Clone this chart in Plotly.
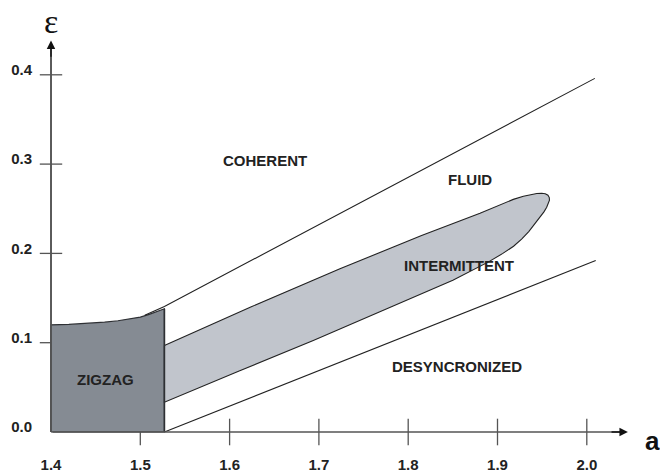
import plotly.graph_objects as go

# ---- data ----
zigzag_x = [1.400, 1.420, 1.440, 1.460, 1.475, 1.489, 1.500, 1.510, 1.519, 1.527]
zigzag_top = [0.1200, 0.1205, 0.1215, 0.1230, 0.1246, 0.1266, 0.1287, 0.1317, 0.1348, 0.1380]

coherent_x = [1.505, 1.527, 2.009]
coherent_y = [0.1308, 0.1405, 0.396]

desync_x = [1.527, 2.010]
desync_y = [0.000, 0.192]

inter_upper_x = [1.527, 1.6237, 1.7236, 1.746, 1.8150, 1.8804, 1.9028, 1.9177, 1.9290, 1.9364,
                 1.9440, 1.9495, 1.9535, 1.9565, 1.9580, 1.9582]
inter_upper_y = [0.097, 0.140, 0.1828, 0.192, 0.2200, 0.2450, 0.2545, 0.2605, 0.2640, 0.2658,
                 0.2671, 0.2674, 0.2668, 0.2652, 0.2625, 0.2595]
inter_lower_x = [1.9570, 1.9551, 1.9520, 1.9476, 1.9420, 1.9350, 1.9270, 1.9180, 1.9060,
                 1.8900, 1.8500, 1.7721, 1.6937, 1.6100, 1.527]
inter_lower_y = [0.2560, 0.2517, 0.2465, 0.2405, 0.2330, 0.2245, 0.2160, 0.2080, 0.2000,
                 0.1905, 0.1700, 0.1360, 0.1025, 0.0680, 0.0334]

x_ticks = [1.5, 1.6, 1.7, 1.8, 1.9, 2.0]
x_labels = [1.4, 1.5, 1.6, 1.7, 1.8, 1.9, 2.0]
y_ticks = [0.1, 0.2, 0.3, 0.4]
y_labels = [0.0, 0.1, 0.2, 0.3, 0.4]

regions = [
    ("COHERENT", 1.6391, 0.304),
    ("FLUID", 1.8692, 0.2828),
    ("INTERMITTENT", 1.8569, 0.1865),
    ("DESYNCRONIZED", 1.8546, 0.0733),
    ("ZIGZAG", 1.461, 0.0588),
]

x_end = 2.046
y_end = 0.4384

W, H = 660, 473
ML, MB = 40, 39
PX = 893.0  # pixels per data unit
X0_PAD = 11 / PX
Y0_PAD = 2 / PX

FONT = "Liberation Sans, Arial, sans-serif"
TXT = "#222222"
AX = "#555555"

fig = go.Figure()

# y axis line
fig.add_trace(go.Scatter(x=[1.4, 1.4], y=[0, y_end - 0.008], mode="lines",
                         line=dict(color=AX, width=1.6), hoverinfo="skip",
                         showlegend=False, cliponaxis=False))

# tick marks crossing the axes
fig.add_trace(go.Scatter(x=x_ticks, y=[0] * len(x_ticks), mode="markers",
                         marker=dict(symbol="line-ns", size=19, line=dict(color=AX, width=1.3)),
                         hoverinfo="skip", showlegend=False, cliponaxis=False))
fig.add_trace(go.Scatter(x=[1.4] * len(y_ticks), y=y_ticks, mode="markers",
                         marker=dict(symbol="line-ew", size=16, line=dict(color=AX, width=1.3)),
                         hoverinfo="skip", showlegend=False, cliponaxis=False))

# zigzag region
zx = [zigzag_x[0]] + zigzag_x + [zigzag_x[-1], zigzag_x[0]]
zy = [0.0] + zigzag_top + [0.0, 0.0]
fig.add_trace(go.Scatter(x=zx, y=zy, mode="lines", fill="toself", fillcolor="#858b93",
                         line=dict(color="#2e3034", width=1.2), hoverinfo="skip",
                         showlegend=False, cliponaxis=False))

# intermittent region
ix = inter_upper_x + inter_lower_x + [inter_upper_x[0]]
iy = inter_upper_y + inter_lower_y + [inter_upper_y[0]]
fig.add_trace(go.Scatter(x=ix, y=iy, mode="lines", fill="toself", fillcolor="#c1c5cc",
                         line=dict(color="#222222", width=1.1),
                         hoverinfo="skip", showlegend=False, cliponaxis=False))

# boundary lines
fig.add_trace(go.Scatter(x=coherent_x, y=coherent_y, mode="lines",
                         line=dict(color="#222222", width=1.1), hoverinfo="skip",
                         showlegend=False, cliponaxis=False))
fig.add_trace(go.Scatter(x=desync_x, y=desync_y, mode="lines",
                         line=dict(color="#222222", width=1.1), hoverinfo="skip",
                         showlegend=False, cliponaxis=False))

# zigzag right edge (dark)
fig.add_trace(go.Scatter(x=[zigzag_x[-1], zigzag_x[-1]], y=[0.0, zigzag_top[-1]], mode="lines",
                         line=dict(color="#2e3034", width=1.6), hoverinfo="skip",
                         showlegend=False, cliponaxis=False))

shapes = [
    # y axis as a thin filled bar anchored at x = 1.4
    dict(type="rect", xref="x", yref="y", xsizemode="pixel", xanchor=1.4, x0=-0.8, x1=0.8,
         y0=0, y1=y_end - 0.008, fillcolor=AX, line=dict(width=0), layer="above"),
]

annotations = [
    # x axis line (no head)
    dict(x=x_end - 0.008, y=0, ax=1.4, ay=0, xref="x", yref="y", axref="x", ayref="y",
         showarrow=True, arrowhead=0, arrowwidth=1.3, arrowcolor=AX, text="", standoff=0,
         startstandoff=0),
    # arrow heads
    dict(x=x_end, y=0, ax=x_end - 0.02, ay=0, xref="x", yref="y", axref="x", ayref="y",
         showarrow=True, arrowhead=2, arrowsize=1.3, arrowwidth=1.3, arrowcolor="#111111", text=""),
    dict(x=1.4, y=y_end, ax=1.4, ay=y_end - 0.02, xref="x", yref="y", axref="x", ayref="y",
         showarrow=True, arrowhead=2, arrowsize=1.3, arrowwidth=1.3, arrowcolor="#111111", text=""),
    dict(x=2.074, y=0, yshift=-9, xref="x", yref="y", text="<b>a</b>", showarrow=False,
         font=dict(family=FONT, size=26, color="#111111")),
    dict(x=1.4, y=y_end, yshift=19, xref="x", yref="y", text="ε", showarrow=False,
         font=dict(family="Liberation Serif, DejaVu Serif, serif", size=34, color="#111111")),
]
for name, x, y in regions:
    annotations.append(dict(x=x, y=y, xref="x", yref="y", text=f"<b>{name}</b>", showarrow=False,
                            font=dict(family=FONT, size=15, color=TXT)))

fig.update_layout(
    width=W, height=H,
    margin=dict(l=ML, r=0, t=0, b=MB),
    paper_bgcolor="white", plot_bgcolor="white",
    showlegend=False,
    shapes=shapes,
    annotations=annotations,
    xaxis=dict(range=[1.4 - X0_PAD, 1.4 - X0_PAD + (W - ML) / PX], showgrid=False, zeroline=False,
               showline=False, ticks="", tickvals=x_labels,
               ticktext=[f"<b>{v:.1f}</b>" for v in x_labels],
               tickfont=dict(family=FONT, size=15, color=TXT), ticklabelstandoff=20,
               fixedrange=True),
    yaxis=dict(range=[-Y0_PAD, -Y0_PAD + (H - MB) / PX], showgrid=False, zeroline=False,
               showline=False, ticks="", tickvals=y_labels,
               ticktext=[f"<b>{v:.1f}</b>" for v in y_labels],
               tickfont=dict(family=FONT, size=15, color=TXT), ticklabelstandoff=7,
               ticklabelshift=-5, fixedrange=True),
)

fig.write_html("out.html")
